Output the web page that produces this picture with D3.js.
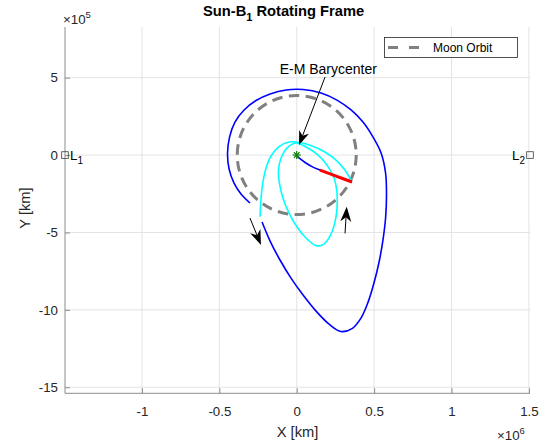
<!DOCTYPE html>
<html>
<head>
<meta charset="utf-8">
<script src="https://cdn.jsdelivr.net/npm/d3@7"></script>
<style>
  body { margin: 0; background: #fff; }
  svg { display: block; }
  text { font-family: "Liberation Sans", Arial, Helvetica, sans-serif; }
</style>
</head>
<body>
<svg id="chart" width="544" height="442"></svg>
<script>
// All positions in km, Sun–(Earth–Moon barycenter) rotating frame, origin at B1.

const xTicks = [-1e6, -0.5e6, 0, 0.5e6, 1e6, 1.5e6];
const xTickLabels = ["-1", "-0.5", "0", "0.5", "1", "1.5"];
const yTicks = [-15e5, -10e5, -5e5, 0, 5e5];
const yTickLabels = ["-15", "-10", "-5", "0", "5"];

const moonOrbitRadius = 384400;

const lagrangePoints = [
  { name: "L", sub: "1", x: -1.497e6, y: 0, side: "right" },
  { name: "L", sub: "2", x: 1.507e6, y: 0, side: "left" }
];

const barycenter = [0, 0];

// Departure from the barycenter region
const departureLeg = [
  [4000, -11000], [54000, -48000], [105000, -78000], [151000, -97000],
  [254000, -136000], [357000, -174000]
];

// Maneuver segment
const burnLeg = [
  [150000, -98000], [254000, -136000], [357000, -174000]
];

// Phasing: outer arc from the maneuver to the hand-off point
const phasingArc = [
  [355000, -168000], [306000, -90000], [247000, -26000], [176000, 23000],
  [99000, 58000], [21000, 81000], [-50000, 84000], [-114000, 55000],
  [-166000, -6000], [-198000, -84000], [-218000, -174000], [-231000, -284000],
  [-237000, -399000]
];

// Phasing: inner closed loop
const phasingLoop = [
  [-5000, 78000], [-63000, 45000], [-101000, -19000], [-118000, -97000],
  [-111000, -187000], [-89000, -278000], [-50000, -375000], [2000, -465000],
  [60000, -536000], [125000, -585000], [176000, -575000], [215000, -523000],
  [244000, -446000], [260000, -349000], [260000, -245000], [241000, -149000],
  [196000, -65000], [131000, 6000], [60000, 52000]
];

// Large transfer loop
const transferLeg = [
  [-224000, -433000], [-172000, -556000], [-108000, -678000], [-37000, -795000],
  [41000, -904000], [125000, -1008000], [209000, -1092000], [286000, -1140000],
  [357000, -1121000], [415000, -1053000], [461000, -950000], [499000, -827000],
  [532000, -691000], [557000, -549000], [574000, -407000], [580000, -258000],
  [574000, -116000], [545000, 13000], [493000, 116000], [428000, 213000],
  [351000, 291000], [260000, 355000], [157000, 401000], [41000, 423000],
  [-69000, 420000], [-172000, 394000], [-263000, 352000], [-340000, 291000],
  [-399000, 213000], [-434000, 116000], [-447000, 13000], [-437000, -90000],
  [-405000, -181000], [-360000, -252000], [-302000, -310000]
];

// Direction-of-motion arrows: [tail, tip]
const motionArrows = [
  [[-302000, -407000], [-231000, -581000]],
  [[312000, -506000], [323000, -334000]]
];

const barycenterNote = {
  text: "E-M Barycenter",
  at: [204000, 523000],
  tail: [183000, 504000],
  tip: [15000, 65000]
};

const title = "Sun-B";
const titleSub = "1";
const titleRest = " Rotating Frame";
const legendLabel = "Moon Orbit";

// ---------------------------------------------------------------
const svg = d3.select("#chart");
const plot = { left: 65, right: 530, top: 27, bottom: 393.3 };

const x = d3.scaleLinear().domain([-1.497e6, 1.507e6]).range([plot.left, plot.right]);
const y = d3.scaleLinear().domain([-1.539e6, 0.827e6]).range([plot.bottom, plot.top]);

const gridColor = "#e3e3e3";
const axisColor = "#8c8c8c";
const textColor = "#262626";

// grid
const grid = svg.append("g");
grid.selectAll("line.gx").data(xTicks).join("line")
  .attr("x1", d => x(d)).attr("x2", d => x(d))
  .attr("y1", plot.top).attr("y2", plot.bottom)
  .attr("stroke", gridColor).attr("stroke-width", 1);
grid.selectAll("line.gy").data(yTicks).join("line")
  .attr("y1", d => y(d)).attr("y2", d => y(d))
  .attr("x1", plot.left).attr("x2", plot.right)
  .attr("stroke", gridColor).attr("stroke-width", 1);

// axes
const xAxis = d3.axisBottom(x).tickValues(xTicks)
  .tickFormat((d, i) => xTickLabels[i])
  .tickSizeInner(-5).tickSizeOuter(0).tickPadding(13);
const yAxis = d3.axisLeft(y).tickValues(yTicks)
  .tickFormat((d, i) => yTickLabels[i])
  .tickSizeInner(-5).tickSizeOuter(0).tickPadding(7);

const gx = svg.append("g").attr("transform", `translate(0,${plot.bottom})`).call(xAxis);
const gy = svg.append("g").attr("transform", `translate(${plot.left},0)`).call(yAxis);
[gx, gy].forEach(g => {
  g.select(".domain").attr("stroke", axisColor);
  g.selectAll(".tick line").attr("stroke", axisColor);
  g.selectAll(".tick text").attr("fill", textColor)
    .style("font-size", "13.3px").style("font-family", "'Liberation Sans', Arial, sans-serif");
});
gx.select(".domain").attr("d", `M${plot.left},0H${plot.right}`);
gy.select(".domain").attr("d", `M0,${plot.top}V${plot.bottom}`);

// exponent labels
const expY = svg.append("text").attr("x", 63).attr("y", 24)
  .attr("fill", textColor).style("font-size", "13.3px");
expY.append("tspan").text("\u00d710");
expY.append("tspan").attr("dy", -6).style("font-size", "9.5px").text("5");

const expX = svg.append("text").attr("x", 497).attr("y", 440)
  .attr("fill", textColor).style("font-size", "13.3px");
expX.append("tspan").text("\u00d710");
expX.append("tspan").attr("dy", -6).style("font-size", "9.5px").text("6");

// axis labels
svg.append("text").attr("x", (plot.left + plot.right) / 2).attr("y", 436.5)
  .attr("text-anchor", "middle").attr("fill", textColor)
  .style("font-size", "14.7px").text("X [km]");
svg.append("text").attr("transform", `translate(30,208) rotate(-90)`)
  .attr("text-anchor", "middle").attr("fill", textColor)
  .style("font-size", "14.7px").text("Y [km]");

// title
const t = svg.append("text").attr("x", 203).attr("y", 16)
  .attr("fill", "#000").style("font-size", "14.7px").style("font-weight", "bold");
t.append("tspan").text(title);
t.append("tspan").attr("dy", 5).style("font-size", "11px").text(titleSub);
t.append("tspan").attr("dy", -5).text(titleRest);

// Moon orbit
svg.append("circle")
  .attr("cx", x(0)).attr("cy", y(0))
  .attr("r", x(moonOrbitRadius) - x(0))
  .attr("fill", "none").attr("stroke", "#808080")
  .attr("stroke-width", 3).attr("stroke-dasharray", "10.5,6.5");

// trajectories
const line = d3.line().x(d => x(d[0])).y(d => y(d[1])).curve(d3.curveCatmullRom.alpha(0.5));
const loopLine = d3.line().x(d => x(d[0])).y(d => y(d[1])).curve(d3.curveCatmullRomClosed.alpha(0.5));

svg.append("path").datum(transferLeg).attr("d", line)
  .attr("fill", "none").attr("stroke", "#0000ff").attr("stroke-width", 1.6);
svg.append("path").datum(phasingLoop).attr("d", loopLine)
  .attr("fill", "none").attr("stroke", "#00ffff").attr("stroke-width", 1.6);
svg.append("path").datum(phasingArc).attr("d", line)
  .attr("fill", "none").attr("stroke", "#00ffff").attr("stroke-width", 1.6);
svg.append("path").datum(departureLeg).attr("d", line)
  .attr("fill", "none").attr("stroke", "#0000ff").attr("stroke-width", 1.6);
svg.append("path").datum(burnLeg).attr("d", line)
  .attr("fill", "none").attr("stroke", "#ff0000").attr("stroke-width", 3);

// barycenter marker (*)
const bx = x(barycenter[0]), by = y(barycenter[1]);
const star = svg.append("g").attr("stroke", "#0a7d0a").attr("stroke-width", 1.2);
const s = 4;
[[-s, 0, s, 0], [0, -s, 0, s], [-s * 0.7, -s * 0.7, s * 0.7, s * 0.7], [-s * 0.7, s * 0.7, s * 0.7, -s * 0.7]]
  .forEach(([a, b, c, d]) => star.append("line")
    .attr("x1", bx + a).attr("y1", by + b).attr("x2", bx + c).attr("y2", by + d));

// arrows
function arrow(tail, tip, headLen, headWid) {
  const x0 = x(tail[0]), y0 = y(tail[1]), x1 = x(tip[0]), y1 = y(tip[1]);
  const len = Math.hypot(x1 - x0, y1 - y0);
  const ux = (x1 - x0) / len, uy = (y1 - y0) / len;
  const nx = -uy, ny = ux;
  const bxp = x1 - headLen * ux, byp = y1 - headLen * uy;
  const notchX = x1 - headLen * 0.7 * ux, notchY = y1 - headLen * 0.7 * uy;
  svg.append("line").attr("x1", x0).attr("y1", y0).attr("x2", notchX).attr("y2", notchY)
    .attr("stroke", "#000").attr("stroke-width", 1);
  svg.append("path")
    .attr("d", `M${x1},${y1}L${bxp + nx * headWid / 2},${byp + ny * headWid / 2}` +
      `L${notchX},${notchY}L${bxp - nx * headWid / 2},${byp - ny * headWid / 2}Z`)
    .attr("fill", "#000");
}
motionArrows.forEach(([a, b]) => arrow(a, b, 15, 11));
arrow(barycenterNote.tail, barycenterNote.tip, 14, 10.5);

svg.append("text").attr("x", x(barycenterNote.at[0])).attr("y", y(barycenterNote.at[1]))
  .attr("text-anchor", "middle").attr("fill", "#000")
  .style("font-size", "14px").text(barycenterNote.text);

// Lagrange points
const lp = svg.append("g");
lagrangePoints.forEach(p => {
  const px = x(p.x), py = y(p.y);
  lp.append("rect").attr("x", px - 3.3).attr("y", py - 3.3)
    .attr("width", 6.6).attr("height", 6.6)
    .attr("fill", "none").attr("stroke", "#3c3c3c").attr("stroke-width", 0.8);
  const lt = lp.append("text").attr("fill", "#000").style("font-size", "13.3px")
    .attr("y", py + 4.5);
  if (p.side === "right") lt.attr("x", px + 5).attr("text-anchor", "start");
  else lt.attr("x", px - 5).attr("text-anchor", "end");
  lt.append("tspan").text(p.name);
  lt.append("tspan").attr("dy", 4).style("font-size", "10px").text(p.sub);
});

// legend
const lg = svg.append("g");
lg.append("rect").attr("x", 384.5).attr("y", 37.5).attr("width", 133).attr("height", 20)
  .attr("fill", "#fff").attr("stroke", "#262626").attr("stroke-width", 0.8);
lg.append("line").attr("x1", 388).attr("x2", 419).attr("y1", 47.5).attr("y2", 47.5)
  .attr("stroke", "#808080").attr("stroke-width", 3).attr("stroke-dasharray", "10,11");
lg.append("text").attr("x", 433).attr("y", 51.8).attr("fill", "#000")
  .style("font-size", "12px").text(legendLabel);
</script>
</body>
</html>
